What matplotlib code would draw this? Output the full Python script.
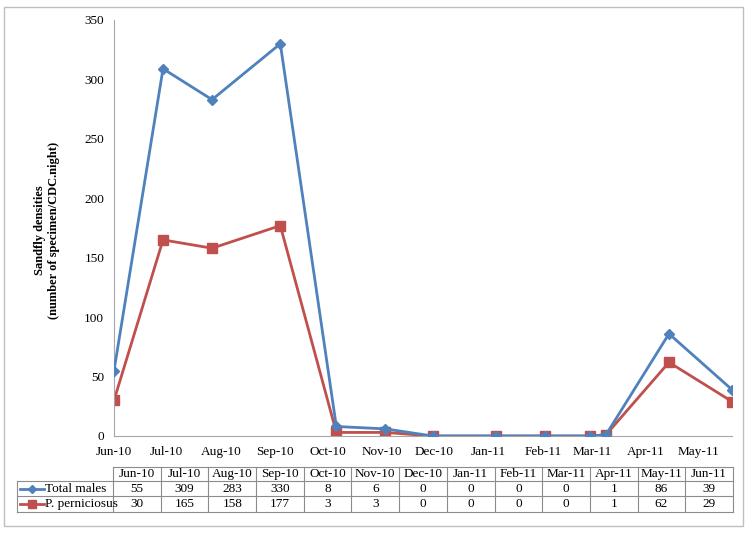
import numpy as np
import pandas as pd
import matplotlib
matplotlib.use('agg')
import matplotlib.pyplot as plt
import matplotlib.dates as mdates
from matplotlib.patches import Rectangle
from matplotlib.lines import Line2D

# sampling dates and table column labels
dates = ['2010-06-01', '2010-06-29', '2010-07-27', '2010-09-04', '2010-10-06',
         '2010-11-03', '2010-11-30', '2011-01-05', '2011-02-02', '2011-02-28',
         '2011-03-09', '2011-04-14', '2011-05-20']
months = ['Jun-10', 'Jul-10', 'Aug-10', 'Sep-10', 'Oct-10', 'Nov-10', 'Dec-10',
          'Jan-11', 'Feb-11', 'Mar-11', 'Apr-11', 'May-11', 'Jun-11']
total_males = [55, 309, 283, 330, 8, 6, 0, 0, 0, 0, 1, 86, 39]
p_pernic = [30, 165, 158, 177, 3, 3, 0, 0, 0, 0, 1, 62, 29]

blue = '#4F81BD'
red = '#C0504D'
grey = '#A6A6A6'
W, H = 750, 534

plt.rcParams['font.family'] = ['Liberation Serif', 'DejaVu Serif']

fig = plt.figure(figsize=(7.5, 5.34), dpi=100)


def fx(px):
    return px / W


def fy(py):
    return 1 - py / H


# outer frame
fig.patches.append(Rectangle((fx(4), fy(526)), fx(743) - fx(4), fy(7) - fy(526),
                             transform=fig.transFigure, fill=False,
                             edgecolor='#BFBFBF', lw=1.0))

x = pd.to_datetime(dates)
ax = fig.add_axes([fx(114), fy(436), fx(732) - fx(114), fy(20) - fy(436)])
ax.plot(x, total_males, color=blue, lw=2, marker='D', ms=5, zorder=3)
ax.plot(x, p_pernic, color=red, lw=2, marker='s', ms=7, zorder=2)
ax.set_ylim(0, 350)
ax.set_yticks(np.arange(0, 351, 50))
ax.set_xlim(x[0], x[-1])
ax.xaxis.set_major_locator(mdates.MonthLocator())
ax.xaxis.set_major_formatter(mdates.DateFormatter('%b-%y'))
ax.set_xticks(pd.date_range('2010-06-01', '2011-05-01', freq='MS'))
ax.tick_params(length=0, labelsize=9.5, pad=7)
for s in ['top', 'right']:
    ax.spines[s].set_visible(False)
for s in ['left', 'bottom']:
    ax.spines[s].set_color(grey)
ax.set_facecolor('none')

fig.text(fx(47), fy(230), 'Sandfly densities\n(number of specimen/CDC.night)',
         rotation=90, ha='center', va='center', fontsize=9,
         fontweight='bold', multialignment='center')

# data table drawn below the chart
tl, t0, tr = 17, 113, 733
rows_y = [467, 481, 496, 512]
ncol = len(months)
cw = (tr - t0) / ncol
lc = '#8C8C8C'
lw = 0.8


def hline(y, x0, x1):
    fig.add_artist(Line2D([fx(x0), fx(x1)], [fy(y), fy(y)], color=lc, lw=lw))


def vline(xp, y0, y1):
    fig.add_artist(Line2D([fx(xp), fx(xp)], [fy(y0), fy(y1)], color=lc, lw=lw))


hline(rows_y[0], t0, tr)
for yy in rows_y[1:]:
    hline(yy, tl, tr)
vline(tl, rows_y[1], rows_y[3])
for i in range(ncol + 1):
    vline(t0 + i * cw, rows_y[0], rows_y[3])

for i, m in enumerate(months):
    cx = t0 + (i + 0.5) * cw
    fig.text(fx(cx), fy((rows_y[0] + rows_y[1]) / 2), m, ha='center',
             va='center', fontsize=9.5)
    fig.text(fx(cx), fy((rows_y[1] + rows_y[2]) / 2), str(total_males[i]),
             ha='center', va='center', fontsize=9.5)
    fig.text(fx(cx), fy((rows_y[2] + rows_y[3]) / 2), str(p_pernic[i]),
             ha='center', va='center', fontsize=9.5)

# legend keys in the first column
series = [('Total males', blue, 'D', 4), ('P. perniciosus', red, 's', 6)]
for k, (name, c, mk, ms) in enumerate(series):
    yc = fy((rows_y[k + 1] + rows_y[k + 2]) / 2)
    fig.add_artist(Line2D([fx(20), fx(44)], [yc, yc], color=c, lw=2))
    fig.add_artist(Line2D([fx(32)], [yc], color=c, marker=mk, ms=ms, lw=0))
    fig.text(fx(45), yc, name, ha='left', va='center', fontsize=9.5)

fig.savefig('out.png', dpi=100)
